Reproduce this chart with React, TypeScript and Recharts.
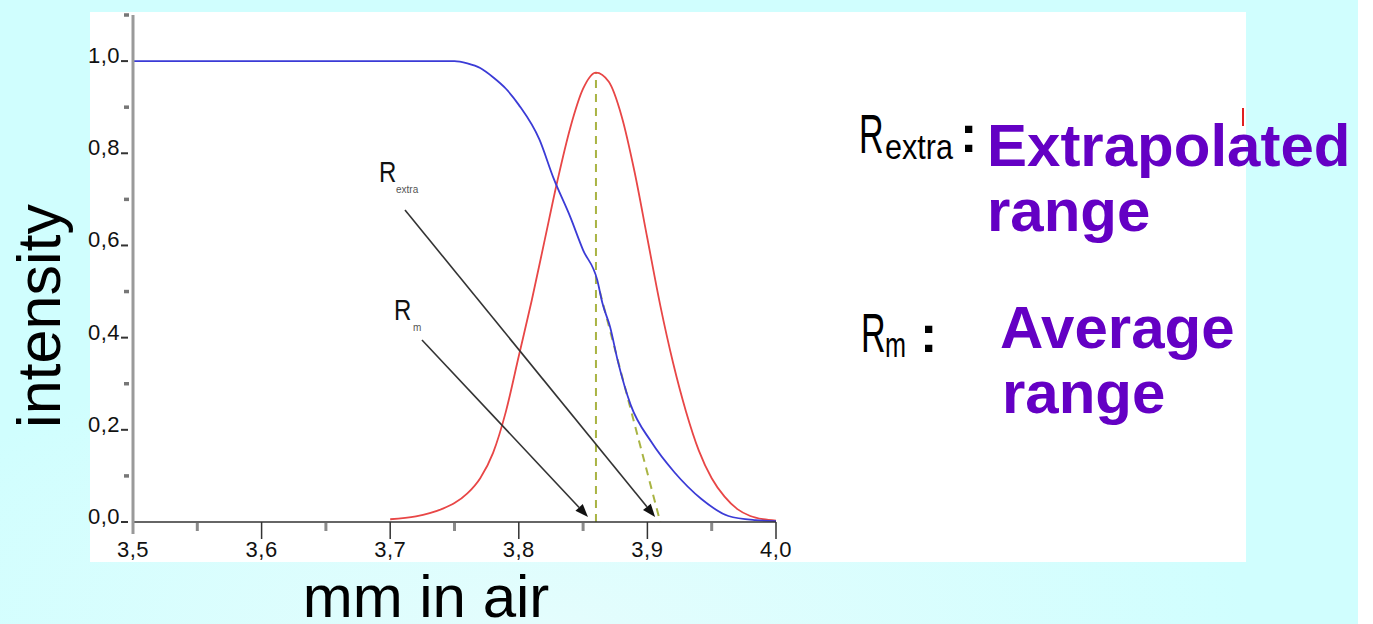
import React from 'react';
import { ComposedChart, Line, XAxis, YAxis, ReferenceLine } from 'recharts';

// ---- data ----
const blueX = [3.5, 3.6, 3.7, 3.75, 3.76, 3.77, 3.78, 3.79, 3.8, 3.816, 3.827, 3.84, 3.85, 3.861, 3.865, 3.871, 3.877, 3.887, 3.903, 3.921, 3.942, 3.963, 3.984, 4.0];
const blueY = [1.0, 1.0, 1.0, 1.0, 0.995, 0.985, 0.965, 0.94, 0.905, 0.83, 0.746, 0.662, 0.59, 0.525, 0.475, 0.423, 0.349, 0.254, 0.174, 0.108, 0.05, 0.013, 0.004, 0.002];

const redX = [3.7, 3.72, 3.74, 3.75, 3.76, 3.77, 3.78, 3.79, 3.8, 3.81, 3.82, 3.83, 3.84, 3.85, 3.86, 3.87, 3.88, 3.89, 3.9, 3.91, 3.92, 3.93, 3.94, 3.95, 3.96, 3.97, 3.98, 3.99, 4.0];
const redY = [0.006, 0.012, 0.028, 0.041, 0.062, 0.095, 0.15, 0.24, 0.36, 0.48, 0.61, 0.74, 0.855, 0.94, 0.975, 0.955, 0.88, 0.76, 0.615, 0.47, 0.345, 0.24, 0.155, 0.095, 0.055, 0.028, 0.013, 0.006, 0.003];

const xMajorTicks = [3.5, 3.6, 3.7, 3.8, 3.9, 4.0];
const xMinorTicks = [3.55, 3.65, 3.75, 3.85, 3.95];
const xTickLabels = ['3,5', '3,6', '3,7', '3,8', '3,9', '4,0'];
const yMajorTicks = [0, 0.2, 0.4, 0.6, 0.8, 1.0];
const yMinorTicks = [0.1, 0.3, 0.5, 0.7, 0.9, 1.1];
const yTickLabels = ['0,0', '0,2', '0,4', '0,6', '0,8', '1,0'];

const peakLine = [{ x: 3.86, y: 0 }, { x: 3.86, y: 0.975 }];
const tangentLine = [{ x: 3.863, y: 0.5 }, { x: 3.91, y: 0 }];
const arrowExtra = [{ x: 3.7115, y: 0.677 }, { x: 3.906, y: 0.011 }];
const arrowMean = [{ x: 3.7247, y: 0.395 }, { x: 3.8538, y: 0.011 }];

const xAxisLabel = 'mm in air';
const yAxisLabel = 'intensity';

const blueData = blueX.map((x, i) => ({ x, y: blueY[i] }));
const redData = redX.map((x, i) => ({ x, y: redY[i] }));

const tickFont = '"Liberation Sans", Arial, sans-serif';
const PURPLE = '#6400c4';

const near = (a: number, b: number) => Math.abs(a - b) < 1e-6;

const XTick = (props: any) => {
  const { x, y, payload } = props;
  const idx = xMajorTicks.findIndex((t) => near(t, payload.value));
  if (idx < 0) {
    return <line x1={x} y1={y + 1} x2={x} y2={y + 9} stroke="#8a8a8a" strokeWidth={3} />;
  }
  return (
    <g>
      <line x1={x} y1={y} x2={x} y2={y + (idx === 0 ? 12 : 17)} stroke={idx === 0 ? '#999' : '#333'} strokeWidth={idx === 0 ? 3 : 1.5} />
      <text x={x} y={y + 35} textAnchor="middle" fontFamily={tickFont} fontSize={22} letterSpacing={0.5} fill="#111">
        {xTickLabels[idx]}
      </text>
    </g>
  );
};

const YTick = (props: any) => {
  const { x, y, payload } = props;
  const idx = yMajorTicks.findIndex((t) => near(t, payload.value));
  if (idx < 0) {
    return <line x1={x - 9} y1={y} x2={x - 4} y2={y} stroke="#777" strokeWidth={3.5} />;
  }
  return (
    <g>
      <line x1={x - 12} y1={y} x2={x - 5} y2={y} stroke="#333" strokeWidth={2} />
      <text x={x - 13} y={y + 2} textAnchor="end" fontFamily={tickFont} fontSize={22} letterSpacing={0.5} fill="#111">
        {yTickLabels[idx]}
      </text>
    </g>
  );
};

const makeArrow = (sub: string, rdx: number, rdy: number, sdx: number, sdy: number) => (p: any) => {
  const { x1, y1, x2, y2 } = p;
  const ang = Math.atan2(y2 - y1, x2 - x1);
  const L = 13;
  const W = 5;
  const bx = x2 - L * Math.cos(ang);
  const by = y2 - L * Math.sin(ang);
  const px = -Math.sin(ang) * W;
  const py = Math.cos(ang) * W;
  return (
    <g>
      <line x1={x1} y1={y1} x2={bx} y2={by} stroke="#333" strokeWidth={1.6} />
      <polygon points={`${x2},${y2} ${bx + px},${by + py} ${bx - px},${by - py}`} fill="#111" />
      <text transform={`translate(${x1 + rdx},${y1 + rdy}) scale(0.8,1)`} fontFamily={tickFont} fontSize={30} fill="#111">R</text>
      <text x={x1 + sdx} y={y1 + sdy} fontFamily={tickFont} fontSize={10} fill="#555">{sub}</text>
    </g>
  );
};

export default function App() {
  return (
    <div
      style={{
        position: 'absolute',
        left: 0,
        top: 0,
        width: 1373,
        height: 624,
        overflow: 'hidden',
        background: 'radial-gradient(ellipse 700px 300px at 40% 100%, #e4fdfd 0%, #d0fefe 100%)',
      }}
    >
      <div style={{ position: 'absolute', left: 1358, top: 0, width: 15, height: 624, background: '#ffffff' }} />
      <div style={{ position: 'absolute', left: 90, top: 12, width: 1156, height: 550, background: '#ffffff' }} />
      <div style={{ position: 'absolute', left: 0, top: 0 }}>
        <ComposedChart width={1373} height={624} margin={{ top: 15, right: 597, bottom: 52, left: 73 }}>
          <XAxis
            dataKey="x"
            type="number"
            domain={[3.5, 4.0]}
            ticks={[...xMajorTicks, ...xMinorTicks]}
            interval={0}
            allowDataOverflow
            height={50}
            tickSize={0}
            tickMargin={0}
            tickLine={false}
            tick={<XTick />}
            axisLine={{ stroke: '#333', strokeWidth: 1.5 }}
          />
          <YAxis
            type="number"
            domain={[0, 1.1]}
            ticks={[...yMajorTicks, ...yMinorTicks]}
            interval={0}
            allowDataOverflow
            width={60}
            tickSize={0}
            tickMargin={0}
            tickLine={false}
            tick={<YTick />}
            axisLine={{ stroke: '#9a9a9a', strokeWidth: 3 }}
          />
          <ReferenceLine segment={peakLine} stroke="#a9b443" strokeWidth={2} strokeDasharray="8 6" ifOverflow="visible" />
          <ReferenceLine segment={tangentLine} stroke="#a9b443" strokeWidth={2} strokeDasharray="8 6" ifOverflow="visible" />
          <Line data={redData} dataKey="y" type="monotone" stroke="#e84646" strokeWidth={1.8} dot={false} isAnimationActive={false} />
          <Line data={blueData} dataKey="y" type="monotone" stroke="#3b3bd6" strokeWidth={1.8} dot={false} isAnimationActive={false} />
          <ReferenceLine segment={arrowExtra} ifOverflow="visible" shape={makeArrow('extra', -26, -28, -9, -17)} />
          <ReferenceLine segment={arrowMean} ifOverflow="visible" shape={makeArrow('m', -28, -20, -9, -9)} />
        </ComposedChart>
      </div>
      <svg width={1373} height={624} style={{ position: 'absolute', left: 0, top: 0, pointerEvents: 'none' }}>
        <text transform="translate(60,316) rotate(-90)" textAnchor="middle" fontFamily={tickFont} fontSize={61} fill="#000">
          {yAxisLabel}
        </text>
        <text x={426} y={617} textAnchor="middle" fontFamily={tickFont} fontSize={60} fill="#000">
          {xAxisLabel}
        </text>
        <text transform="translate(859,153) scale(0.62,1)" fontFamily={tickFont} fontSize={55} fill="#000">R</text>
        <text transform="translate(885,159) scale(0.85,1)" fontFamily={tickFont} fontSize={36} fill="#000">extra</text>
        <text x={960} y={152} fontFamily={tickFont} fontWeight="bold" fontSize={52} fill="#000">:</text>
        <text x={987} y={166} fontFamily={tickFont} fontWeight="bold" fontSize={60} fill={PURPLE}>Extrapolated</text>
        <text x={987} y={231} fontFamily={tickFont} fontWeight="bold" fontSize={60} fill={PURPLE}>range</text>
        <line x1={1243} y1={108} x2={1243} y2={126} stroke="#e02020" strokeWidth={2} />
        <text transform="translate(861,352) scale(0.62,1)" fontFamily={tickFont} fontSize={55} fill="#000">R</text>
        <text transform="translate(885,357) scale(0.7,1)" fontFamily={tickFont} fontSize={36} fill="#000">m</text>
        <text x={920} y={352} fontFamily={tickFont} fontWeight="bold" fontSize={52} fill="#000">:</text>
        <text x={1000} y={348} fontFamily={tickFont} fontWeight="bold" fontSize={60} fill={PURPLE}>Average</text>
        <text x={1002} y={413} fontFamily={tickFont} fontWeight="bold" fontSize={60} fill={PURPLE}>range</text>
      </svg>
    </div>
  );
}
